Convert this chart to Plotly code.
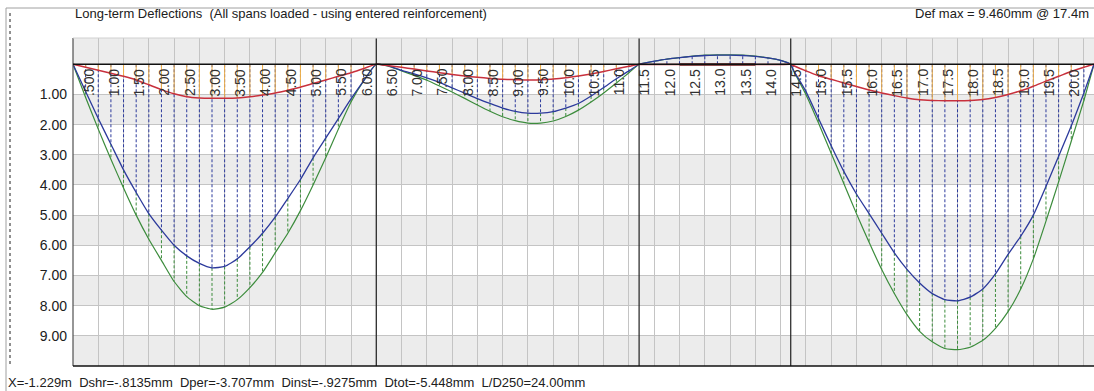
import plotly.graph_objects as go

# Stations along the beam (m) - every 0.25 m plus the support positions
x_m = [
    0.0, 0.25, 0.5, 0.75, 1.0, 1.25, 1.5, 1.75, 2.0, 2.25, 2.5, 2.75, 3.0,
    3.25, 3.5, 3.75, 4.0, 4.25, 4.5, 4.75, 5.0, 5.25, 5.5, 5.75, 6.0,
    6.25, 6.5, 6.75, 7.0, 7.25, 7.5, 7.75, 8.0, 8.25, 8.5, 8.75, 9.0,
    9.25, 9.5, 9.75, 10.0, 10.25, 10.5, 10.75, 11.0, 11.2,
    11.25, 11.5, 11.75, 12.0, 12.25, 12.5, 12.75, 13.0, 13.25, 13.5, 13.75, 14.0, 14.2,
    14.25, 14.5, 14.75, 15.0, 15.25, 15.5, 15.75, 16.0, 16.25, 16.5, 16.75, 17.0,
    17.25, 17.5, 17.75, 18.0, 18.25, 18.5, 18.75, 19.0, 19.25, 19.5, 19.75, 20.0, 20.2,
]

# Instantaneous deflection (mm, downward positive)
d_inst = [
    0.0, 0.10, 0.20, 0.30, 0.40, 0.52, 0.68, 0.84, 0.98, 1.08, 1.12, 1.13, 1.13,
    1.12, 1.08, 1.02, 0.95, 0.86, 0.76, 0.64, 0.52, 0.40, 0.28, 0.14, 0.0,
    0.05, 0.10, 0.16, 0.22, 0.28, 0.34, 0.39, 0.43, 0.47, 0.50, 0.51, 0.52,
    0.51, 0.49, 0.45, 0.39, 0.32, 0.24, 0.15, 0.07, 0.0,
    0.01, 0.01, 0.01, 0.01, 0.01, 0.01, 0.01, 0.01, 0.01, 0.01, 0.01, 0.01, 0.0,
    0.04, 0.22, 0.38, 0.50, 0.62, 0.74, 0.85, 0.95, 1.04, 1.12, 1.18, 1.20,
    1.21, 1.21, 1.20, 1.17, 1.10, 1.00, 0.88, 0.73, 0.56, 0.40, 0.24, 0.10, 0.0,
]

# Long-term (permanent load) deflection (mm)
d_perm = [
    0.0, 0.90, 1.80, 2.65, 3.50, 4.25, 4.95, 5.50, 6.00, 6.35, 6.60, 6.75, 6.70,
    6.45, 6.05, 5.60, 5.07, 4.45, 3.82, 3.10, 2.45, 1.80, 1.15, 0.55, 0.0,
    0.06, 0.20, 0.32, 0.45, 0.60, 0.78, 0.96, 1.14, 1.30, 1.45, 1.56, 1.62,
    1.62, 1.57, 1.45, 1.30, 1.05, 0.77, 0.48, 0.22, 0.0,
    -0.02, -0.10, -0.17, -0.22, -0.26, -0.29, -0.30, -0.30, -0.29, -0.26, -0.21, -0.13, 0.0,
    0.18, 0.90, 1.80, 2.70, 3.55, 4.30, 4.95, 5.60, 6.25, 6.80, 7.25, 7.60,
    7.80, 7.84, 7.72, 7.45, 6.95, 6.30, 5.70, 5.00, 4.05, 3.05, 2.05, 0.95, 0.0,
]

# Total long-term deflection (mm)
d_tot = [
    0.0, 1.10, 2.15, 3.15, 4.10, 5.00, 5.80, 6.50, 7.20, 7.70, 8.00, 8.12, 8.05,
    7.80, 7.40, 6.90, 6.25, 5.60, 4.85, 4.00, 3.10, 2.15, 1.25, 0.55, 0.0,
    0.07, 0.22, 0.37, 0.53, 0.72, 0.92, 1.13, 1.35, 1.56, 1.74, 1.87, 1.95,
    1.95, 1.88, 1.73, 1.52, 1.25, 0.95, 0.62, 0.28, 0.0,
    -0.02, -0.10, -0.17, -0.22, -0.27, -0.30, -0.31, -0.31, -0.30, -0.27, -0.21, -0.13, 0.0,
    0.20, 1.00, 1.95, 2.95, 3.95, 4.95, 5.90, 6.80, 7.60, 8.30, 8.85, 9.20,
    9.42, 9.46, 9.38, 9.15, 8.75, 8.20, 7.45, 6.45, 5.20, 3.90, 2.55, 1.20, 0.0,
]

# Flat stretch of the instantaneous line over the short span
flat_x = [12.0, 13.5]
flat_d = [0.01, 0.01]

supports = [0.0, 6.0, 11.2, 14.2, 20.2]

station_pos = [0.5 * k for k in range(1, 41)]
station_txt = [".500", "1.00", "1.50", "2.00", "2.50", "3.00", "3.50", "4.00",
               "4.50", "5.00", "5.50", "6.00", "6.50", "7.00", "7.50", "8.00",
               "8.50", "9.00", "9.50", "10.0", "10.5", "11.0", "11.5", "12.0",
               "12.5", "13.0", "13.5", "14.0", "14.5", "15.0", "15.5", "16.0",
               "16.5", "17.0", "17.5", "18.0", "18.5", "19.0", "19.5", "20.0"]

y_ticks = [1, 2, 3, 4, 5, 6, 7, 8, 9]
y_ticktext = ["1.00", "2.00", "3.00", "4.00", "5.00", "6.00", "7.00", "8.00", "9.00"]

title_txt = "Long-term Deflections  (All spans loaded - using entered reinforcement)"
defmax_txt = "Def max = 9.460mm @ 17.4m"
status_txt = ("X=-1.229m  Dshr=-.8135mm  Dper=-3.707mm  Dinst=-.9275mm  "
              "Dtot=-5.448mm  L/D250=24.00mm")

SANS = "Liberation Sans, Arial, sans-serif"
RED = "#c8303c"
BLUE = "#2c3a9c"
GREEN = "#3c8c3c"
ORANGE = "#f2b24a"


def hatch(xs, lo, hi):
    hx, hy = [], []
    for xi, a, b in zip(xs, lo, hi):
        if xi in supports or abs(a - b) < 1e-9:
            continue
        hx += [xi, xi, None]
        hy += [a, b, None]
    return hx, hy


zeros = [0.0] * len(x_m)
fig = go.Figure()

bx, by = hatch(x_m, zeros, d_perm)
fig.add_trace(go.Scatter(x=bx, y=by, mode="lines", hoverinfo="skip",
                         line=dict(color=BLUE, width=1, dash="3px,2px")))
gx, gy = hatch(x_m, d_perm, d_tot)
fig.add_trace(go.Scatter(x=gx, y=gy, mode="lines", hoverinfo="skip",
                         line=dict(color=GREEN, width=1, dash="3px,2px")))
ox, oy = hatch(x_m, zeros, d_inst)
fig.add_trace(go.Scatter(x=ox, y=oy, mode="lines", hoverinfo="skip",
                         line=dict(color=ORANGE, width=1)))

fig.add_trace(go.Scatter(x=x_m, y=d_tot, mode="lines", name="Dtot",
                         line=dict(color=GREEN, width=1.2, shape="spline", smoothing=0.5)))
fig.add_trace(go.Scatter(x=x_m, y=d_perm, mode="lines", name="Dper",
                         line=dict(color=BLUE, width=1.3, shape="spline", smoothing=0.5)))
fig.add_trace(go.Scatter(x=x_m, y=d_inst, mode="lines", name="Dinst",
                         line=dict(color=RED, width=1.5, shape="spline", smoothing=0.5)))
fig.add_trace(go.Scatter(x=flat_x, y=flat_d, mode="lines", hoverinfo="skip",
                         line=dict(color="#6a2424", width=2.5)))

shapes = []
# alternating grey bands
for y0, y1 in [(-0.87, 0), (1, 2), (3, 4), (5, 6), (7, 8), (9, 10)]:
    shapes.append(dict(type="rect", xref="paper", yref="y", x0=0, x1=1, y0=y0, y1=y1,
                       fillcolor="#ececec", line=dict(width=0), layer="below"))
# support lines
for s in supports[1:-1]:
    shapes.append(dict(type="line", xref="x", yref="paper", x0=s, x1=s, y0=0, y1=1,
                       line=dict(color="#202020", width=1.2)))
shapes.append(dict(type="line", xref="paper", yref="paper", x0=0, x1=0, y0=0, y1=1,
                   line=dict(color="#505050", width=1.2)))
# zero line and bottom border
shapes.append(dict(type="line", xref="x", yref="y", x0=supports[0], x1=supports[-1],
                   y0=0, y1=0, line=dict(color="#101010", width=1.5)))
shapes.append(dict(type="line", xref="paper", yref="paper", x0=0, x1=1, y0=0, y1=0,
                   line=dict(color="#101010", width=1.5)))
shapes.append(dict(type="line", xref="paper", yref="paper", x0=0, x1=1, y0=1, y1=1,
                   line=dict(color="#d0d0d0", width=1)))
# window frame
W, H, L, T, B = 1094, 391, 73, 38, 25
pw, ph = W - L, H - T - B


def px(v):
    return (v - L) / pw


def py(v):
    return (H - B - v) / ph


shapes.append(dict(type="line", xref="paper", yref="paper", x0=px(6), x1=px(6),
                   y0=py(8), y1=py(391), line=dict(color="#a0a0a0", width=1)))
shapes.append(dict(type="line", xref="paper", yref="paper", x0=px(6), x1=1,
                   y0=py(8), y1=py(8), line=dict(color="#a0a0a0", width=1)))
shapes.append(dict(type="line", xref="paper", yref="paper", x0=px(10), x1=px(10),
                   y0=py(13), y1=py(364), line=dict(color="#202020", width=1, dash="3px,3px")))

annotations = []
for pos, txt in zip(station_pos, station_txt):
    annotations.append(dict(x=pos, y=0, xref="x", yref="y", text=txt, showarrow=False,
                            textangle=-90, xanchor="center", yanchor="top",
                            xshift=-10, yshift=-3,
                            font=dict(family=SANS, size=14, color="#303030")))
annotations.append(dict(x=0, y=py(13), xref="paper", yref="paper", text=title_txt,
                        showarrow=False, xanchor="left", yanchor="middle",
                        font=dict(family=SANS, size=13, color="#202020")))
annotations.append(dict(x=1, y=py(13), xref="paper", yref="paper", text=defmax_txt,
                        showarrow=False, xanchor="right", yanchor="middle", xshift=-3,
                        font=dict(family=SANS, size=13, color="#202020")))
annotations.append(dict(x=px(6), y=py(382), xref="paper", yref="paper", text=status_txt,
                        showarrow=False, xanchor="left", yanchor="middle",
                        font=dict(family=SANS, size=13, color="#202020")))

fig.update_layout(
    width=W, height=H,
    margin=dict(l=L, r=0, t=T, b=B, pad=0),
    paper_bgcolor="white", plot_bgcolor="white",
    showlegend=False,
    shapes=shapes, annotations=annotations,
    xaxis=dict(range=[supports[0], supports[-1]], tick0=0, dtick=0.5,
               showgrid=True, gridcolor="#c4c4c4", gridwidth=1,
               showticklabels=False, ticks="", zeroline=False, showline=False),
    yaxis=dict(range=[10.0, -0.87], tickvals=y_ticks, ticktext=y_ticktext,
               showgrid=True, gridcolor="#c4c4c4", gridwidth=1,
               ticks="", ticklabelstandoff=5, zeroline=False, showline=False,
               tickfont=dict(family=SANS, size=14, color="#202020")),
)

fig.write_html("out.html")
